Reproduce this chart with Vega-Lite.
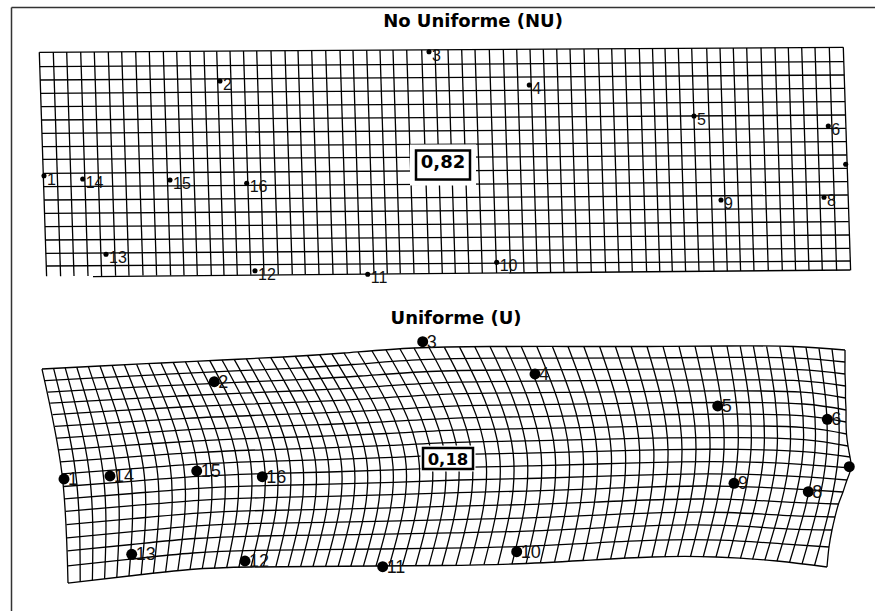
{
"$schema": "https://vega.github.io/schema/vega-lite/v6.json",
"width": 864, "height": 604,
"autosize": {"type": "none"},
"padding": {"left": 11, "top": 7, "right": 0, "bottom": 0},
"background": "white",
"config": {"view": {"stroke": null}},
"datasets": {
"tv": [
{"x":39.3,"y":52.3,"x2":46.6,"y2":276.3},{"x":53.3,"y":52.2,"x2":60.6,"y2":276.2},{"x":66.7,"y":52.1,"x2":74,"y2":276.1},{"x":80.7,"y":52,"x2":88,"y2":276},{"x":94.3,"y":51.9,"x2":101.6,"y2":275.9},{"x":108.3,"y":51.9,"x2":115.6,"y2":275.8},{"x":121.7,"y":51.8,"x2":129,"y2":275.7},{"x":135.7,"y":51.7,"x2":143,"y2":275.6},{"x":149.3,"y":51.6,"x2":156.6,"y2":275.5},{"x":163.3,"y":51.5,"x2":170.6,"y2":275.4},
{"x":176.7,"y":51.4,"x2":184,"y2":275.3},{"x":190,"y":51.4,"x2":197.3,"y2":275.2},{"x":204,"y":51.3,"x2":211.3,"y2":275.1},{"x":216.7,"y":51.2,"x2":224,"y2":275},{"x":230,"y":51.1,"x2":237.3,"y2":274.9},{"x":243.5,"y":51,"x2":250.8,"y2":274.8},{"x":256.7,"y":50.9,"x2":264,"y2":274.7},{"x":271,"y":50.9,"x2":278.3,"y2":274.6},{"x":285,"y":50.8,"x2":292.3,"y2":274.5},{"x":298,"y":50.7,"x2":305.3,"y2":274.4},
{"x":311.7,"y":50.6,"x2":319,"y2":274.3},{"x":325.7,"y":50.5,"x2":333,"y2":274.2},{"x":340,"y":50.4,"x2":347.3,"y2":274},{"x":353,"y":50.4,"x2":360.3,"y2":273.9},{"x":366.7,"y":50.3,"x2":374,"y2":273.8},{"x":380,"y":50.2,"x2":387.3,"y2":273.7},{"x":393,"y":50.1,"x2":400.3,"y2":273.6},{"x":406.7,"y":50,"x2":414,"y2":273.5},{"x":421.7,"y":49.9,"x2":429,"y2":273.4},{"x":435,"y":49.8,"x2":442.3,"y2":273.3},
{"x":448,"y":49.8,"x2":455.3,"y2":273.2},{"x":461.7,"y":49.7,"x2":469,"y2":273.1},{"x":475,"y":49.6,"x2":482.3,"y2":273},{"x":489.3,"y":49.5,"x2":496.6,"y2":272.9},{"x":503.3,"y":49.4,"x2":510.6,"y2":272.8},{"x":516.7,"y":49.3,"x2":524,"y2":272.7},{"x":530,"y":49.3,"x2":537.3,"y2":272.6},{"x":543.3,"y":49.2,"x2":550.6,"y2":272.5},{"x":556.7,"y":49.1,"x2":564,"y2":272.4},{"x":570,"y":49,"x2":577.3,"y2":272.3},
{"x":584,"y":48.9,"x2":591.3,"y2":272.2},{"x":598.3,"y":48.8,"x2":605.6,"y2":272.1},{"x":611.7,"y":48.8,"x2":619,"y2":272},{"x":625,"y":48.7,"x2":632.3,"y2":271.9},{"x":639.3,"y":48.6,"x2":646.6,"y2":271.8},{"x":652.5,"y":48.5,"x2":659.8,"y2":271.7},{"x":665,"y":48.4,"x2":672.3,"y2":271.6},{"x":678.3,"y":48.3,"x2":685.6,"y2":271.5},{"x":691.7,"y":48.3,"x2":699,"y2":271.4},{"x":706.7,"y":48.2,"x2":714,"y2":271.3},
{"x":720,"y":48.1,"x2":727.3,"y2":271.2},{"x":733.3,"y":48,"x2":740.6,"y2":271.1},{"x":746.7,"y":47.9,"x2":754,"y2":271},{"x":761,"y":47.8,"x2":768.3,"y2":270.9},{"x":775,"y":47.7,"x2":782.3,"y2":270.8},{"x":788.3,"y":47.7,"x2":795.6,"y2":270.7},{"x":801.7,"y":47.6,"x2":809,"y2":270.6},{"x":815,"y":47.5,"x2":822.3,"y2":270.5},{"x":829.3,"y":47.4,"x2":836.6,"y2":270.4},{"x":843.3,"y":47.3,"x2":850.6,"y2":270.3}
],
"th": [
{"x":39.3,"y":52.3,"x2":843.3,"y2":47.3},{"x":39.8,"y":66.7,"x2":843.8,"y2":61.7},{"x":40.2,"y":80,"x2":844.2,"y2":75},{"x":40.6,"y":93.3,"x2":844.6,"y2":88.3},{"x":41.1,"y":106.7,"x2":845,"y2":101.7},{"x":41.5,"y":120,"x2":845.4,"y2":115},{"x":42,"y":133.3,"x2":845.9,"y2":128.3},{"x":42.4,"y":146.7,"x2":846.3,"y2":141.7},{"x":42.8,"y":159.3,"x2":846.7,"y2":155},
{"x":43.3,"y":173.3,"x2":847.1,"y2":168.3},{"x":43.7,"y":186.7,"x2":847.5,"y2":181.7},{"x":44.2,"y":200,"x2":847.9,"y2":195},{"x":44.6,"y":213.3,"x2":848.4,"y2":208.3},{"x":45,"y":226.7,"x2":848.8,"y2":221.7},{"x":45.4,"y":240,"x2":849.2,"y2":235},{"x":45.9,"y":253.3,"x2":849.6,"y2":248.3},{"x":46.3,"y":266,"x2":850,"y2":261},{"x":93,"y":276.6,"x2":850.3,"y2":270}
],
"bv": [
{"k":0,"i":0,"x":42,"y":369},{"k":0,"i":1,"x":62,"y":473.9},{"k":0,"i":2,"x":68,"y":583},
{"k":1,"i":0,"x":53.6,"y":368.4},{"k":1,"i":1,"x":75.6,"y":472.9},{"k":1,"i":2,"x":80.2,"y":581.6},
{"k":2,"i":0,"x":65.2,"y":367.8},{"k":2,"i":1,"x":89.2,"y":471.9},{"k":2,"i":2,"x":92.4,"y":580.2},
{"k":3,"i":0,"x":76.8,"y":367.2},{"k":3,"i":1,"x":102.8,"y":470.9},{"k":3,"i":2,"x":104.6,"y":578.8},
{"k":4,"i":0,"x":88.4,"y":366.6},{"k":4,"i":1,"x":116.4,"y":469.9},{"k":4,"i":2,"x":116.8,"y":577.4},
{"k":5,"i":0,"x":100,"y":366},{"k":5,"i":1,"x":130,"y":468.9},{"k":5,"i":2,"x":129,"y":576},
{"k":6,"i":0,"x":112.2,"y":365.4},{"k":6,"i":1,"x":143.4,"y":467.9},{"k":6,"i":2,"x":141.2,"y":574.7},
{"k":7,"i":0,"x":124.4,"y":364.8},{"k":7,"i":1,"x":156.8,"y":467},{"k":7,"i":2,"x":153.4,"y":573.4},
{"k":8,"i":0,"x":136.6,"y":364.2},{"k":8,"i":1,"x":170.2,"y":466.1},{"k":8,"i":2,"x":165.6,"y":572.1},
{"k":9,"i":0,"x":148.8,"y":363.6},{"k":9,"i":1,"x":183.6,"y":465.1},{"k":9,"i":2,"x":177.8,"y":570.8},
{"k":10,"i":0,"x":161,"y":363},{"k":10,"i":1,"x":197,"y":464.2},{"k":10,"i":2,"x":190,"y":569.5},
{"k":11,"i":0,"x":173.2,"y":362.4},{"k":11,"i":1,"x":210.4,"y":463.6},{"k":11,"i":2,"x":202.2,"y":569},
{"k":12,"i":0,"x":185.4,"y":361.8},{"k":12,"i":1,"x":223.8,"y":463},{"k":12,"i":2,"x":214.4,"y":568.5},
{"k":13,"i":0,"x":197.6,"y":361.2},{"k":13,"i":1,"x":237.2,"y":462.5},{"k":13,"i":2,"x":226.6,"y":568},
{"k":14,"i":0,"x":209.8,"y":360.6},{"k":14,"i":1,"x":250.6,"y":461.9},{"k":14,"i":2,"x":238.8,"y":567.5},
{"k":15,"i":0,"x":222,"y":360},{"k":15,"i":1,"x":264,"y":461.4},{"k":15,"i":2,"x":251,"y":567},
{"k":16,"i":0,"x":234.2,"y":359.4},{"k":16,"i":1,"x":276.8,"y":461.1},{"k":16,"i":2,"x":263.4,"y":566.9},
{"k":17,"i":0,"x":246.4,"y":358.8},{"k":17,"i":1,"x":289.6,"y":460.7},{"k":17,"i":2,"x":275.8,"y":566.8},
{"k":18,"i":0,"x":258.6,"y":358.2},{"k":18,"i":1,"x":302.4,"y":460.4},{"k":18,"i":2,"x":288.2,"y":566.7},
{"k":19,"i":0,"x":270.8,"y":357.6},{"k":19,"i":1,"x":315.2,"y":460},{"k":19,"i":2,"x":300.6,"y":566.6},
{"k":20,"i":0,"x":283,"y":357},{"k":20,"i":1,"x":328,"y":459.7},{"k":20,"i":2,"x":313,"y":566.5},
{"k":21,"i":0,"x":295.2,"y":356.2},{"k":21,"i":1,"x":340.8,"y":459.2},{"k":21,"i":2,"x":325.6,"y":566.4},
{"k":22,"i":0,"x":307.4,"y":355.4},{"k":22,"i":1,"x":353.6,"y":458.8},{"k":22,"i":2,"x":338.2,"y":566.3},
{"k":23,"i":0,"x":319.6,"y":354.6},{"k":23,"i":1,"x":366.4,"y":458.3},{"k":23,"i":2,"x":350.8,"y":566.2},
{"k":24,"i":0,"x":331.8,"y":353.8},{"k":24,"i":1,"x":379.2,"y":457.9},{"k":24,"i":2,"x":363.4,"y":566.1},
{"k":25,"i":0,"x":344,"y":353},{"k":25,"i":1,"x":392,"y":457.4},{"k":25,"i":2,"x":376,"y":566},
{"k":26,"i":0,"x":358,"y":352},{"k":26,"i":1,"x":405.2,"y":456.8},{"k":26,"i":2,"x":389.2,"y":565.9},
{"k":27,"i":0,"x":372,"y":351},{"k":27,"i":1,"x":418.4,"y":456.3},{"k":27,"i":2,"x":402.4,"y":565.8},
{"k":28,"i":0,"x":386,"y":350},{"k":28,"i":1,"x":431.6,"y":455.7},{"k":28,"i":2,"x":415.6,"y":565.7},
{"k":29,"i":0,"x":400,"y":349},{"k":29,"i":1,"x":444.8,"y":455.2},{"k":29,"i":2,"x":428.8,"y":565.6},
{"k":30,"i":0,"x":414,"y":348},{"k":30,"i":1,"x":458,"y":454.6},{"k":30,"i":2,"x":442,"y":565.5},
{"k":31,"i":0,"x":429.2,"y":347.7},{"k":31,"i":1,"x":471.8,"y":454.3},{"k":31,"i":2,"x":456,"y":565.2},
{"k":32,"i":0,"x":444.4,"y":347.4},{"k":32,"i":1,"x":485.6,"y":454},{"k":32,"i":2,"x":470,"y":564.9},
{"k":33,"i":0,"x":459.6,"y":347.1},{"k":33,"i":1,"x":499.4,"y":453.7},{"k":33,"i":2,"x":484,"y":564.6},
{"k":34,"i":0,"x":474.8,"y":346.8},{"k":34,"i":1,"x":513.2,"y":453.4},{"k":34,"i":2,"x":498,"y":564.3},
{"k":35,"i":0,"x":490,"y":346.5},{"k":35,"i":1,"x":527,"y":453.1},{"k":35,"i":2,"x":512,"y":564},
{"k":36,"i":0,"x":505.6,"y":346.5},{"k":36,"i":1,"x":541,"y":452.8},{"k":36,"i":2,"x":526.2,"y":563.3},
{"k":37,"i":0,"x":521.2,"y":346.5},{"k":37,"i":1,"x":555,"y":452.4},{"k":37,"i":2,"x":540.4,"y":562.6},
{"k":38,"i":0,"x":536.8,"y":346.5},{"k":38,"i":1,"x":569,"y":452.1},{"k":38,"i":2,"x":554.6,"y":561.9},
{"k":39,"i":0,"x":552.4,"y":346.5},{"k":39,"i":1,"x":583,"y":451.7},{"k":39,"i":2,"x":568.8,"y":561.2},
{"k":40,"i":0,"x":568,"y":346.5},{"k":40,"i":1,"x":597,"y":451.4},{"k":40,"i":2,"x":583,"y":560.5},
{"k":41,"i":0,"x":583.8,"y":346.5},{"k":41,"i":1,"x":611.2,"y":451},{"k":41,"i":2,"x":596.8,"y":559.8},
{"k":42,"i":0,"x":599.6,"y":346.5},{"k":42,"i":1,"x":625.4,"y":450.7},{"k":42,"i":2,"x":610.6,"y":559.1},
{"k":43,"i":0,"x":615.4,"y":346.5},{"k":43,"i":1,"x":639.6,"y":450.3},{"k":43,"i":2,"x":624.4,"y":558.4},
{"k":44,"i":0,"x":631.2,"y":346.5},{"k":44,"i":1,"x":653.8,"y":450},{"k":44,"i":2,"x":638.2,"y":557.7},
{"k":45,"i":0,"x":647,"y":346.5},{"k":45,"i":1,"x":668,"y":449.6},{"k":45,"i":2,"x":652,"y":557},
{"k":46,"i":0,"x":663,"y":346.4},{"k":46,"i":1,"x":682,"y":449.6},{"k":46,"i":2,"x":664.8,"y":557},
{"k":47,"i":0,"x":679,"y":346.3},{"k":47,"i":1,"x":696,"y":449.5},{"k":47,"i":2,"x":677.6,"y":557},
{"k":48,"i":0,"x":695,"y":346.2},{"k":48,"i":1,"x":710,"y":449.5},{"k":48,"i":2,"x":690.4,"y":557},
{"k":49,"i":0,"x":711,"y":346.1},{"k":49,"i":1,"x":724,"y":449.4},{"k":49,"i":2,"x":703.2,"y":557},
{"k":50,"i":0,"x":727,"y":346},{"k":50,"i":1,"x":738,"y":449.4},{"k":50,"i":2,"x":716,"y":557},
{"k":51,"i":0,"x":740.2,"y":346.1},{"k":51,"i":1,"x":751,"y":449.8},{"k":51,"i":2,"x":728.2,"y":557.8},
{"k":52,"i":0,"x":753.4,"y":346.2},{"k":52,"i":1,"x":764,"y":450.3},{"k":52,"i":2,"x":740.4,"y":558.6},
{"k":53,"i":0,"x":766.6,"y":346.3},{"k":53,"i":1,"x":777,"y":450.7},{"k":53,"i":2,"x":752.6,"y":559.4},
{"k":54,"i":0,"x":779.8,"y":346.4},{"k":54,"i":1,"x":790,"y":451.2},{"k":54,"i":2,"x":764.8,"y":560.2},
{"k":55,"i":0,"x":793,"y":346.5},{"k":55,"i":1,"x":803,"y":451.6},{"k":55,"i":2,"x":777,"y":561},
{"k":56,"i":0,"x":806,"y":347.4},{"k":56,"i":1,"x":814.8,"y":452.8},{"k":56,"i":2,"x":789.5,"y":562.5},
{"k":57,"i":0,"x":819,"y":348.3},{"k":57,"i":1,"x":826.5,"y":454},{"k":57,"i":2,"x":802,"y":564},
{"k":58,"i":0,"x":832,"y":349.1},{"k":58,"i":1,"x":838.3,"y":455.1},{"k":58,"i":2,"x":814.5,"y":565.5},
{"k":59,"i":0,"x":845,"y":350},{"k":59,"i":1,"x":845,"y":362},{"k":59,"i":2,"x":845,"y":374},{"k":59,"i":3,"x":845.5,"y":386},{"k":59,"i":4,"x":845.5,"y":398},{"k":59,"i":5,"x":846,"y":410},{"k":59,"i":6,"x":846,"y":422},{"k":59,"i":7,"x":846.5,"y":434},{"k":59,"i":8,"x":848,"y":446},{"k":59,"i":9,"x":850,"y":457},{"k":59,"i":10,"x":851,"y":468},{"k":59,"i":11,"x":847,"y":480},{"k":59,"i":12,"x":843,"y":492},{"k":59,"i":13,"x":838.5,"y":504},{"k":59,"i":14,"x":835,"y":517},{"k":59,"i":15,"x":832,"y":530},{"k":59,"i":16,"x":829,"y":547},{"k":59,"i":17,"x":827,"y":567}
],
"bh": [
{"v":0,"c":0,"x":42,"y":369},{"v":0,"c":5,"x":100,"y":366},{"v":0,"c":10,"x":161,"y":363},{"v":0,"c":15,"x":222,"y":360},{"v":0,"c":20,"x":283,"y":357},{"v":0,"c":25,"x":344,"y":353},{"v":0,"c":30,"x":414,"y":348},{"v":0,"c":35,"x":490,"y":346.5},{"v":0,"c":40,"x":568,"y":346.5},{"v":0,"c":45,"x":647,"y":346.5},{"v":0,"c":50,"x":727,"y":346},{"v":0,"c":55,"x":793,"y":346.5},{"v":0,"c":59,"x":845,"y":350},
{"v":1,"c":0,"x":44.9,"y":380.6},{"v":1,"c":5,"x":105,"y":377.3},{"v":1,"c":10,"x":167.3,"y":374.2},{"v":1,"c":15,"x":229.6,"y":371.2},{"v":1,"c":20,"x":291.2,"y":368.3},{"v":1,"c":25,"x":352.8,"y":364.5},{"v":1,"c":30,"x":422.1,"y":359.7},{"v":1,"c":35,"x":496.9,"y":358.2},{"v":1,"c":40,"x":573.6,"y":358.1},{"v":1,"c":45,"x":651.4,"y":357.9},{"v":1,"c":50,"x":730.1,"y":357.4},{"v":1,"c":55,"x":796.1,"y":358.1},{"v":1,"c":59,"x":845,"y":362},
{"v":2,"c":0,"x":47.7,"y":392.1},{"v":2,"c":5,"x":109.5,"y":388.7},{"v":2,"c":10,"x":173,"y":385.3},{"v":2,"c":15,"x":236.5,"y":382.4},{"v":2,"c":20,"x":298.7,"y":379.6},{"v":2,"c":25,"x":360.7,"y":376},{"v":2,"c":30,"x":429.5,"y":371.5},{"v":2,"c":35,"x":503.2,"y":370},{"v":2,"c":40,"x":578.5,"y":369.6},{"v":2,"c":45,"x":655.2,"y":369.2},{"v":2,"c":50,"x":732.7,"y":368.8},{"v":2,"c":55,"x":798.8,"y":369.7},{"v":2,"c":59,"x":845,"y":374},
{"v":3,"c":0,"x":50.2,"y":403.2},{"v":3,"c":5,"x":113.6,"y":399.6},{"v":3,"c":10,"x":178.2,"y":396},{"v":3,"c":15,"x":242.7,"y":393.1},{"v":3,"c":20,"x":305.3,"y":390.5},{"v":3,"c":25,"x":367.8,"y":387.1},{"v":3,"c":30,"x":436,"y":382.8},{"v":3,"c":35,"x":508.7,"y":381.3},{"v":3,"c":40,"x":582.9,"y":380.7},{"v":3,"c":45,"x":658.6,"y":380.2},{"v":3,"c":50,"x":734.9,"y":379.8},{"v":3,"c":55,"x":800.9,"y":380.8},{"v":3,"c":59,"x":845.5,"y":386},
{"v":4,"c":0,"x":52.6,"y":414.6},{"v":4,"c":5,"x":117.4,"y":410.7},{"v":4,"c":10,"x":182.7,"y":407},{"v":4,"c":15,"x":248.1,"y":404.1},{"v":4,"c":20,"x":311.1,"y":401.6},{"v":4,"c":25,"x":374,"y":398.4},{"v":4,"c":30,"x":441.7,"y":394.3},{"v":4,"c":35,"x":513.5,"y":392.8},{"v":4,"c":40,"x":586.7,"y":392.1},{"v":4,"c":45,"x":661.4,"y":391.3},{"v":4,"c":50,"x":736.6,"y":390.9},{"v":4,"c":55,"x":802.6,"y":392.2},{"v":4,"c":59,"x":845.5,"y":398},
{"v":5,"c":0,"x":54.8,"y":426.4},{"v":5,"c":5,"x":120.7,"y":422.3},{"v":5,"c":10,"x":186.7,"y":418.3},{"v":5,"c":15,"x":252.7,"y":415.5},{"v":5,"c":20,"x":316.1,"y":413.1},{"v":5,"c":25,"x":379.3,"y":410.1},{"v":5,"c":30,"x":446.5,"y":406.3},{"v":5,"c":35,"x":517.6,"y":404.8},{"v":5,"c":40,"x":590,"y":403.9},{"v":5,"c":45,"x":663.8,"y":402.9},{"v":5,"c":50,"x":737.8,"y":402.5},{"v":5,"c":55,"x":803.7,"y":404},{"v":5,"c":59,"x":846,"y":410},
{"v":6,"c":0,"x":56.9,"y":438.1},{"v":6,"c":5,"x":123.6,"y":433.8},{"v":6,"c":10,"x":190.1,"y":429.7},{"v":6,"c":15,"x":256.6,"y":426.9},{"v":6,"c":20,"x":320.3,"y":424.7},{"v":6,"c":25,"x":383.7,"y":421.8},{"v":6,"c":30,"x":450.6,"y":418.3},{"v":6,"c":35,"x":521,"y":416.8},{"v":6,"c":40,"x":592.6,"y":415.6},{"v":6,"c":45,"x":665.6,"y":414.5},{"v":6,"c":50,"x":738.5,"y":414.2},{"v":6,"c":55,"x":804.2,"y":415.8},{"v":6,"c":59,"x":846,"y":422},
{"v":7,"c":0,"x":58.8,"y":449.9},{"v":7,"c":5,"x":126.2,"y":445.4},{"v":7,"c":10,"x":193,"y":441.1},{"v":7,"c":15,"x":259.8,"y":438.2},{"v":7,"c":20,"x":323.7,"y":436.2},{"v":7,"c":25,"x":387.4,"y":433.5},{"v":7,"c":30,"x":453.9,"y":430.2},{"v":7,"c":35,"x":523.7,"y":428.7},{"v":7,"c":40,"x":594.6,"y":427.4},{"v":7,"c":45,"x":666.9,"y":426.1},{"v":7,"c":50,"x":738.8,"y":425.8},{"v":7,"c":55,"x":804.4,"y":427.6},{"v":7,"c":59,"x":846.5,"y":434},
{"v":8,"c":0,"x":60.5,"y":461.9},{"v":8,"c":5,"x":128.3,"y":457.1},{"v":8,"c":10,"x":195.3,"y":452.6},{"v":8,"c":15,"x":262.3,"y":449.8},{"v":8,"c":20,"x":326.2,"y":447.9},{"v":8,"c":25,"x":390.1,"y":445.4},{"v":8,"c":30,"x":456.3,"y":442.4},{"v":8,"c":35,"x":525.7,"y":440.9},{"v":8,"c":40,"x":596.1,"y":439.4},{"v":8,"c":45,"x":667.7,"y":437.9},{"v":8,"c":50,"x":738.6,"y":437.6},{"v":8,"c":55,"x":803.9,"y":439.6},{"v":8,"c":59,"x":848,"y":446},
{"v":9,"c":0,"x":62,"y":473.9},{"v":9,"c":5,"x":130,"y":468.9},{"v":9,"c":10,"x":197,"y":464.2},{"v":9,"c":15,"x":264,"y":461.4},{"v":9,"c":20,"x":328,"y":459.7},{"v":9,"c":25,"x":392,"y":457.4},{"v":9,"c":30,"x":458,"y":454.6},{"v":9,"c":35,"x":527,"y":453.1},{"v":9,"c":40,"x":597,"y":451.4},{"v":9,"c":45,"x":668,"y":449.6},{"v":9,"c":50,"x":738,"y":449.4},{"v":9,"c":55,"x":803,"y":451.6},{"v":9,"c":59,"x":850,"y":457},
{"v":10,"c":0,"x":63.4,"y":486.5},{"v":10,"c":5,"x":131.3,"y":481.3},{"v":10,"c":10,"x":198.1,"y":476.4},{"v":10,"c":15,"x":265,"y":473.6},{"v":10,"c":20,"x":329,"y":472},{"v":10,"c":25,"x":393,"y":469.9},{"v":10,"c":30,"x":458.8,"y":467.4},{"v":10,"c":35,"x":527.6,"y":465.9},{"v":10,"c":40,"x":597.3,"y":464},{"v":10,"c":45,"x":667.8,"y":462.1},{"v":10,"c":50,"x":736.9,"y":461.8},{"v":10,"c":55,"x":801.5,"y":464.3},{"v":10,"c":59,"x":851,"y":468},
{"v":11,"c":0,"x":64.5,"y":498.9},{"v":11,"c":5,"x":132.2,"y":493.5},{"v":11,"c":10,"x":198.7,"y":488.3},{"v":11,"c":15,"x":265.2,"y":485.6},{"v":11,"c":20,"x":329.1,"y":484.2},{"v":11,"c":25,"x":393.2,"y":482.3},{"v":11,"c":30,"x":458.8,"y":480},{"v":11,"c":35,"x":527.5,"y":478.5},{"v":11,"c":40,"x":597,"y":476.4},{"v":11,"c":45,"x":667,"y":474.3},{"v":11,"c":50,"x":735.3,"y":474.1},{"v":11,"c":55,"x":799.6,"y":476.7},{"v":11,"c":59,"x":847,"y":480},
{"v":12,"c":0,"x":65.6,"y":511.3},{"v":12,"c":5,"x":132.7,"y":505.7},{"v":12,"c":10,"x":198.7,"y":500.3},{"v":12,"c":15,"x":264.7,"y":497.7},{"v":12,"c":20,"x":328.4,"y":496.3},{"v":12,"c":25,"x":392.5,"y":494.6},{"v":12,"c":30,"x":458.1,"y":492.6},{"v":12,"c":35,"x":526.6,"y":491.1},{"v":12,"c":40,"x":596.1,"y":488.8},{"v":12,"c":45,"x":665.8,"y":486.5},{"v":12,"c":50,"x":733.3,"y":486.3},{"v":12,"c":55,"x":797.1,"y":489.1},{"v":12,"c":59,"x":843,"y":492},
{"v":13,"c":0,"x":66.4,"y":524.6},{"v":13,"c":5,"x":132.8,"y":518.7},{"v":13,"c":10,"x":198.1,"y":513.1},{"v":13,"c":15,"x":263.4,"y":510.5},{"v":13,"c":20,"x":327,"y":509.3},{"v":13,"c":25,"x":390.9,"y":507.9},{"v":13,"c":30,"x":456.5,"y":506.1},{"v":13,"c":35,"x":525.2,"y":504.6},{"v":13,"c":40,"x":594.7,"y":502.1},{"v":13,"c":45,"x":664.1,"y":499.5},{"v":13,"c":50,"x":730.8,"y":499.4},{"v":13,"c":55,"x":794.1,"y":502.4},{"v":13,"c":59,"x":838.5,"y":504},
{"v":14,"c":0,"x":67,"y":537.8},{"v":14,"c":5,"x":132.4,"y":531.7},{"v":14,"c":10,"x":196.9,"y":525.9},{"v":14,"c":15,"x":261.4,"y":523.3},{"v":14,"c":20,"x":324.7,"y":522.3},{"v":14,"c":25,"x":388.5,"y":521.1},{"v":14,"c":30,"x":454.1,"y":519.6},{"v":14,"c":35,"x":522.9,"y":518.1},{"v":14,"c":40,"x":592.6,"y":515.3},{"v":14,"c":45,"x":661.8,"y":512.6},{"v":14,"c":50,"x":727.8,"y":512.5},{"v":14,"c":55,"x":790.6,"y":515.7},{"v":14,"c":59,"x":835,"y":517},
{"v":15,"c":0,"x":67.5,"y":550.9},{"v":15,"c":5,"x":131.7,"y":544.5},{"v":15,"c":10,"x":195.2,"y":538.5},{"v":15,"c":15,"x":258.7,"y":536},{"v":15,"c":20,"x":321.6,"y":535.1},{"v":15,"c":25,"x":385.2,"y":534.1},{"v":15,"c":30,"x":450.8,"y":532.9},{"v":15,"c":35,"x":520,"y":531.4},{"v":15,"c":40,"x":590,"y":528.4},{"v":15,"c":45,"x":659,"y":525.4},{"v":15,"c":50,"x":724.3,"y":525.4},{"v":15,"c":55,"x":786.6,"y":528.8},{"v":15,"c":59,"x":832,"y":530},
{"v":16,"c":0,"x":67.9,"y":565.9},{"v":16,"c":5,"x":130.6,"y":559.2},{"v":16,"c":10,"x":192.9,"y":553},{"v":16,"c":15,"x":255.2,"y":550.4},{"v":16,"c":20,"x":317.7,"y":549.7},{"v":16,"c":25,"x":381,"y":549},{"v":16,"c":30,"x":446.8,"y":548.1},{"v":16,"c":35,"x":516.3,"y":546.6},{"v":16,"c":40,"x":586.8,"y":543.4},{"v":16,"c":45,"x":655.8,"y":540.2},{"v":16,"c":50,"x":720.4,"y":540.1},{"v":16,"c":55,"x":782,"y":543.8},{"v":16,"c":59,"x":829,"y":547},
{"v":17,"c":0,"x":68,"y":583},{"v":17,"c":5,"x":129,"y":576},{"v":17,"c":10,"x":190,"y":569.5},{"v":17,"c":15,"x":251,"y":567},{"v":17,"c":20,"x":313,"y":566.5},{"v":17,"c":25,"x":376,"y":566},{"v":17,"c":30,"x":442,"y":565.5},{"v":17,"c":35,"x":512,"y":564},{"v":17,"c":40,"x":583,"y":560.5},{"v":17,"c":45,"x":652,"y":557},{"v":17,"c":50,"x":716,"y":557},{"v":17,"c":55,"x":777,"y":561},{"v":17,"c":59,"x":827,"y":567}
],
"pts": [
{"p":"NU","id":1,"x":44,"y":175.7},{"p":"NU","id":2,"x":220,"y":81},{"p":"NU","id":3,"x":429,"y":51.7},{"p":"NU","id":4,"x":529.3,"y":85},{"p":"NU","id":5,"x":694,"y":116},{"p":"NU","id":6,"x":828.3,"y":126},{"p":"NU","id":7,"x":845.7,"y":164.3},{"p":"NU","id":8,"x":824,"y":197.3},
{"p":"NU","id":9,"x":721,"y":200},{"p":"NU","id":10,"x":496.7,"y":262.3},{"p":"NU","id":11,"x":367.7,"y":274.3},{"p":"NU","id":12,"x":255,"y":270.7},{"p":"NU","id":13,"x":106,"y":254.3},{"p":"NU","id":14,"x":82.7,"y":179},{"p":"NU","id":15,"x":170,"y":180},{"p":"NU","id":16,"x":246.7,"y":183.3},
{"p":"U","id":1,"x":64,"y":479},{"p":"U","id":2,"x":214.3,"y":381.7},{"p":"U","id":3,"x":422.7,"y":341.7},{"p":"U","id":4,"x":535,"y":374},{"p":"U","id":5,"x":717.7,"y":406},{"p":"U","id":6,"x":827.3,"y":419.3},{"p":"U","id":7,"x":849.3,"y":466.7},{"p":"U","id":8,"x":808.3,"y":491.7},
{"p":"U","id":9,"x":734,"y":483.3},{"p":"U","id":10,"x":516.7,"y":551.7},{"p":"U","id":11,"x":382.7,"y":566.7},{"p":"U","id":12,"x":245,"y":561},{"p":"U","id":13,"x":131.7,"y":554.3},{"p":"U","id":14,"x":110,"y":476},{"p":"U","id":15,"x":196.7,"y":471},{"p":"U","id":16,"x":262.3,"y":476.7}
],
"boxes": [
{"p":"NU","x":416,"x2":470,"y":150.5,"y2":179.5},
{"p":"U","x":423,"x2":473,"y":448,"y2":469}
],
"boxtxt": [
{"p":"NU","t":"0,82","x":443,"y":168},
{"p":"U","t":"0,18","x":448,"y":465}
],
"titles": [
{"t":"No Uniforme (NU)","x":473,"y":27},
{"t":"Uniforme (U)","x":456,"y":324}
]
},
"encoding": {
"x": {"field":"x","type":"quantitative","scale":{"domain":[11,875],"nice":false,"zero":false},"axis":{"orient":"top","domain":true,"domainColor":"#333333","domainWidth":1.5,"ticks":false,"labels":false,"grid":false,"title":null}},
"y": {"field":"y","type":"quantitative","scale":{"domain":[7,611],"nice":false,"zero":false,"reverse":true},"axis":{"orient":"left","domain":true,"domainColor":"#333333","domainWidth":1.5,"ticks":false,"labels":false,"grid":false,"title":null}}
},
"layer": [
{"data":{"name":"tv"},"mark":{"type":"rule","color":"black","strokeWidth":1.3},"encoding":{"x2":{"field":"x2"},"y2":{"field":"y2"}}},
{"data":{"name":"th"},"mark":{"type":"rule","color":"black","strokeWidth":1.3},"encoding":{"x2":{"field":"x2"},"y2":{"field":"y2"}}},
{"data":{"name":"bv"},"mark":{"type":"line","color":"black","strokeWidth":1.3,"interpolate":"natural"},"encoding":{"detail":{"field":"k","type":"nominal"},"order":{"field":"i","type":"quantitative"}}},
{"data":{"name":"bh"},"mark":{"type":"line","color":"black","strokeWidth":1.3,"interpolate":"natural"},"encoding":{"detail":{"field":"v","type":"nominal"},"order":{"field":"c","type":"quantitative"}}},
{"data":{"name":"boxes"},"transform":[{"filter":"datum.p == 'NU'"}],"mark":{"type":"rect","fill":"white","stroke":"white","strokeWidth":12},"encoding":{"x2":{"field":"x2"},"y2":{"field":"y2"}}},
{"data":{"name":"boxes"},"transform":[{"filter":"datum.p == 'U'"}],"mark":{"type":"rect","fill":"white","stroke":"white","strokeWidth":5},"encoding":{"x2":{"field":"x2"},"y2":{"field":"y2"}}},
{"data":{"name":"boxes"},"mark":{"type":"rect","fill":"white","stroke":"black","strokeWidth":2.5},"encoding":{"x2":{"field":"x2"},"y2":{"field":"y2"}}},
{"data":{"name":"boxtxt"},"transform":[{"filter":"datum.p == 'NU'"}],"mark":{"type":"text","font":"DejaVu Sans","fontWeight":"bold","fontSize":18,"align":"center","baseline":"alphabetic","color":"black"},"encoding":{"text":{"field":"t"}}},
{"data":{"name":"boxtxt"},"transform":[{"filter":"datum.p == 'U'"}],"mark":{"type":"text","font":"DejaVu Sans","fontWeight":"bold","fontSize":16.5,"align":"center","baseline":"alphabetic","color":"black"},"encoding":{"text":{"field":"t"}}},
{"data":{"name":"pts"},"transform":[{"filter":"datum.p == 'NU'"}],"mark":{"type":"circle","color":"black","opacity":1,"size":26}},
{"data":{"name":"pts"},"transform":[{"filter":"datum.p == 'U'"}],"mark":{"type":"circle","color":"black","opacity":1,"size":120}},
{"data":{"name":"pts"},"transform":[{"filter":"datum.p == 'NU' && datum.id != 7"}],"mark":{"type":"text","font":"Liberation Sans","fontSize":16,"align":"left","baseline":"alphabetic","dx":3,"dy":9,"color":"#111111"},"encoding":{"text":{"field":"id","type":"nominal"}}},
{"data":{"name":"pts"},"transform":[{"filter":"datum.p == 'U' && datum.id != 7"}],"mark":{"type":"text","font":"Liberation Sans","fontSize":18,"align":"left","baseline":"alphabetic","dx":4,"dy":6,"color":"#111111"},"encoding":{"text":{"field":"id","type":"nominal"}}},
{"data":{"name":"titles"},"mark":{"type":"text","font":"DejaVu Sans","fontWeight":"bold","fontSize":18,"align":"center","baseline":"alphabetic","color":"black"},"encoding":{"text":{"field":"t"}}}
]
}
